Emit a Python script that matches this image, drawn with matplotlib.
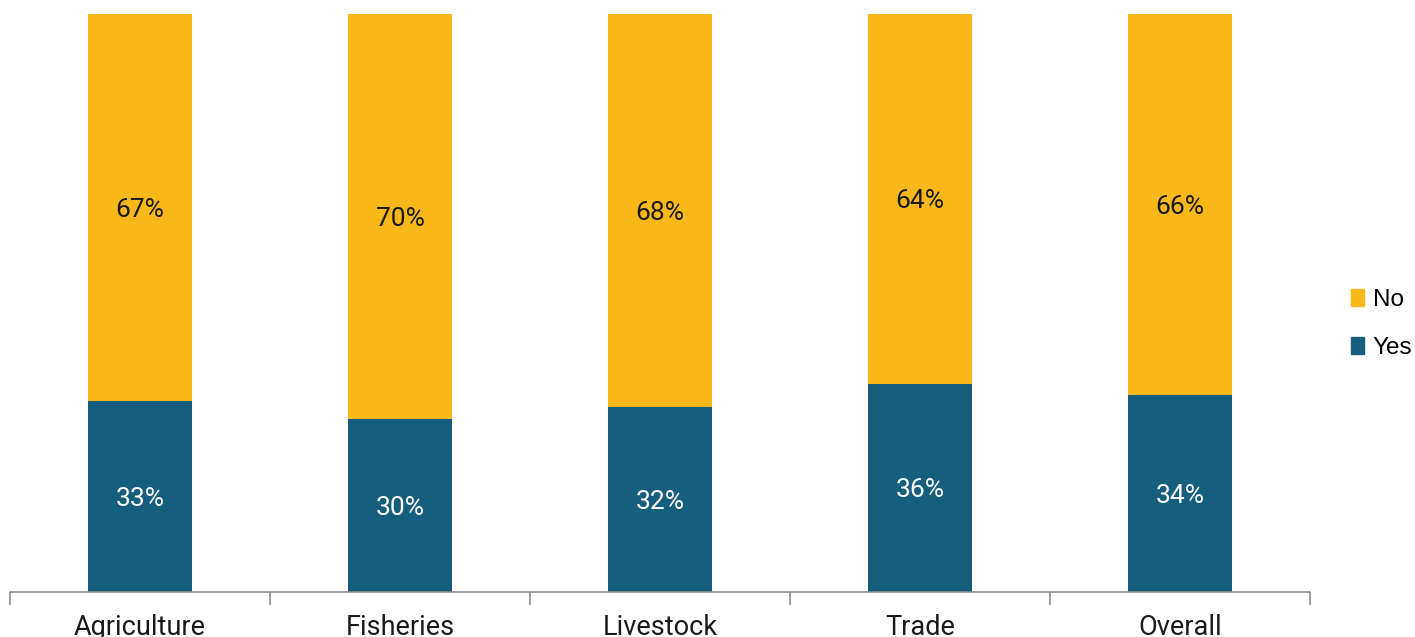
import matplotlib
matplotlib.use("Agg")
import matplotlib.pyplot as plt
from matplotlib.patches import Patch
import numpy as np

categories = ["Agriculture", "Fisheries", "Livestock", "Trade", "Overall"]
yes_pct = [33, 30, 32, 36, 34]
no_pct = [67, 70, 68, 64, 66]

YES_COLOR = "#165E7D"
NO_COLOR = "#F8B819"

plt.rcParams["font.family"] = ["Roboto", "DejaVu Sans"]

fig = plt.figure(figsize=(14.15, 6.37), dpi=100)
ax = fig.add_axes([10 / 1415, 45 / 637, 1300 / 1415, 578 / 637])

x = np.arange(len(categories))
yes = np.array(yes_pct) / 100
no = np.array(no_pct) / 100

ax.bar(x, yes, width=0.4, color=YES_COLOR)
ax.bar(x, no, width=0.4, bottom=yes, color=NO_COLOR)

for xi, y, n in zip(x, yes_pct, no_pct):
    ax.text(xi, y / 200, f"{y}%", ha="center", va="center_baseline",
            color="white", fontsize=19)
    ax.text(xi, y / 100 + n / 200, f"{n}%", ha="center", va="center_baseline",
            color="#1a1a1a", fontsize=19)

ax.set_xlim(-0.5, len(categories) - 0.5)
ax.set_ylim(0, 1)
for side in ("top", "right", "left"):
    ax.spines[side].set_visible(False)
ax.spines["bottom"].set_color("#8c8c8c")
ax.spines["bottom"].set_linewidth(1.2)
ax.set_yticks([])

ax.set_xticks(np.arange(len(categories) + 1) - 0.5)
ax.set_xticklabels([])
ax.tick_params(axis="x", which="major", length=9, color="#8c8c8c", width=1.2)
ax.set_xticks(x, minor=True)
ax.set_xticklabels(categories, minor=True, fontsize=19.5, color="#1a1a1a")
ax.tick_params(axis="x", which="minor", length=0, pad=16)

handles = [Patch(color=NO_COLOR, label="No"), Patch(color=YES_COLOR, label="Yes")]
leg = fig.legend(handles=handles, loc="center left",
                 bbox_to_anchor=(1351 / 1415, 1 - 324 / 637),
                 frameon=False, handlelength=0.55, handleheight=0.7,
                 handletextpad=0.35, labelspacing=1.05, borderaxespad=0, borderpad=0,
                 prop={"family": ["Liberation Sans", "DejaVu Sans"], "size": 17.5})

fig.savefig("out.png", dpi=100)
